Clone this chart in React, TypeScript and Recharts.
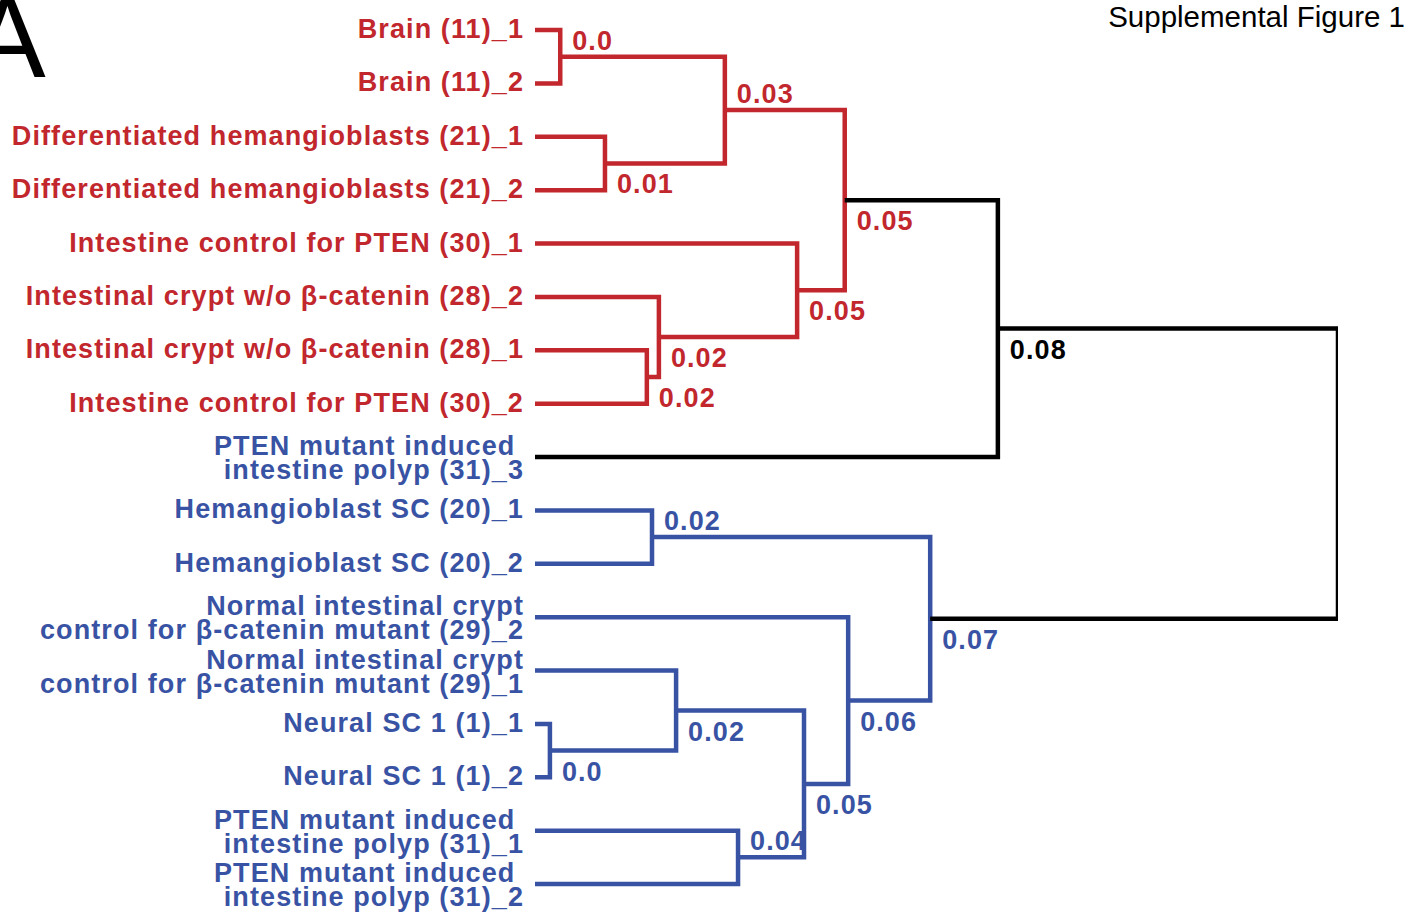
import React from 'react';
import { ComposedChart, XAxis, YAxis, Scatter } from 'recharts';

// Leaves (top to bottom)
const leafLabels = [
  'Brain (11)_1',
  'Brain (11)_2',
  'Differentiated hemangioblasts (21)_1',
  'Differentiated hemangioblasts (21)_2',
  'Intestine control for PTEN (30)_1',
  'Intestinal crypt w/o β-catenin (28)_2',
  'Intestinal crypt w/o β-catenin (28)_1',
  'Intestine control for PTEN (30)_2',
  'PTEN mutant induced \nintestine polyp (31)_3',
  'Hemangioblast SC (20)_1',
  'Hemangioblast SC (20)_2',
  'Normal intestinal crypt\ncontrol for β-catenin mutant (29)_2',
  'Normal intestinal crypt\ncontrol for β-catenin mutant (29)_1',
  'Neural SC 1 (1)_1',
  'Neural SC 1 (1)_2',
  'PTEN mutant induced \nintestine polyp (31)_1',
  'PTEN mutant induced \nintestine polyp (31)_2',
];
const leafGroups = [
  'red', 'red', 'red', 'red', 'red', 'red', 'red', 'red',
  'blue', 'blue', 'blue', 'blue', 'blue', 'blue', 'blue', 'blue', 'blue',
];

// Internal nodes of the dendrogram
const nodeIds = ['n1', 'n2', 'n3', 'n4', 'n5', 'n6', 'n7', 'n8', 'b1', 'b2', 'b3', 'b4', 'b5', 'b6', 'b7', 'root'];
const nodeChildren: [string, string][] = [
  ['L0', 'L1'],
  ['L2', 'L3'],
  ['n1', 'n2'],
  ['L6', 'L7'],
  ['L5', 'n4'],
  ['L4', 'n5'],
  ['n3', 'n6'],
  ['n7', 'L8'],
  ['L9', 'L10'],
  ['L13', 'L14'],
  ['L12', 'b2'],
  ['L15', 'L16'],
  ['b3', 'b4'],
  ['L11', 'b5'],
  ['b1', 'b6'],
  ['n8', 'b7'],
];
const nodeHeights = [0.0044, 0.0122, 0.0331, 0.0195, 0.0216, 0.0457, 0.054, 0.0807, 0.0204, 0.0026, 0.0246, 0.0354, 0.0469, 0.0546, 0.0689, 0.14];
const nodeLabels = ['0.0', '0.01', '0.03', '0.02', '0.02', '0.05', '0.05', '0.08', '0.02', '0.0', '0.02', '0.04', '0.05', '0.06', '0.07', '0.14'];
const nodeGroups = ['red', 'red', 'red', 'red', 'red', 'red', 'red', 'black', 'blue', 'blue', 'blue', 'blue', 'blue', 'blue', 'blue', 'black'];
const nodeLabelSides = ['above', 'below', 'above', 'below', 'below', 'below', 'below', 'below', 'above', 'below', 'below', 'above', 'below', 'below', 'below', 'right'];

const COLORS: Record<string, string> = { red: '#c1272d', blue: '#3953a4', black: '#000000' };
const FONT = "'Liberation Sans', Arial, Helvetica, sans-serif";

// compute coordinates in data space
const pos: Record<string, { x: number; y: number }> = {};
leafLabels.forEach((_, i) => {
  pos['L' + i] = { x: 0, y: i };
});
nodeIds.forEach((id, i) => {
  const [a, b] = nodeChildren[i];
  pos[id] = { x: nodeHeights[i], y: (pos[a].y + pos[b].y) / 2 };
});

const branchData = nodeIds.map((id, i) => {
  const [a, b] = nodeChildren[i];
  const h = nodeHeights[i];
  return [
    { x: pos[a].x, y: pos[a].y },
    { x: h, y: pos[a].y },
    { x: h, y: pos[b].y },
    { x: pos[b].x, y: pos[b].y },
  ];
});

const labelData = nodeIds.map((id, i) => ({
  x: pos[id].x,
  y: pos[id].y,
  label: nodeLabels[i],
  side: nodeLabelSides[i],
  color: COLORS[nodeGroups[i]],
}));

const leafTicks = leafLabels.map((_, i) => i);

const LeafTick = (props: any) => {
  const { x, y, payload } = props;
  const i = payload.value as number;
  const lines = leafLabels[i].split('\n');
  const color = COLORS[leafGroups[i]];
  const common = {
    textAnchor: 'end' as const,
    fill: color,
    fontFamily: FONT,
    fontWeight: 700,
    fontSize: 27,
    letterSpacing: 1.1,
    style: { whiteSpace: 'pre' as const },
  };
  if (lines.length === 1) {
    return (
      <text x={x} y={y + 8} {...common}>
        {lines[0]}
      </text>
    );
  }
  return (
    <text {...common}>
      <tspan x={x} y={y - 2}>{lines[0]}</tspan>
      <tspan x={x} y={y + 22}>{lines[1]}</tspan>
    </text>
  );
};

const NodeLabel = (props: any) => {
  const { cx, cy, payload } = props;
  let tx = cx + 12;
  let ty = cy + 30;
  if (payload.side === 'above') ty = cy - 7;
  if (payload.side === 'right') {
    tx = cx + 18;
    ty = cy - 1;
  }
  return (
    <text x={tx} y={ty} fill={payload.color} fontFamily={FONT} fontWeight={700} fontSize={27} letterSpacing={1.1}>
      {payload.label}
    </text>
  );
};

const NoPoint = () => <g />;

export default function App() {
  return (
    <div style={{ position: 'absolute', left: 0, top: 0, width: 1415, height: 921, background: '#fff' }}>
      <ComposedChart width={1415} height={921} margin={{ top: 30, right: 77, bottom: 37, left: 0 }}>
        <XAxis type="number" dataKey="x" domain={[0, 0.14]} hide allowDataOverflow />
        <YAxis
          type="number"
          dataKey="y"
          domain={[0, 16]}
          reversed
          ticks={leafTicks}
          interval={0}
          width={535}
          axisLine={false}
          tickLine={false}
          tickSize={0}
          tickMargin={11}
          tick={<LeafTick />}
        />
        {branchData.map((d, i) => (
          <Scatter
            key={nodeIds[i]}
            data={d}
            fill={COLORS[nodeGroups[i]]}
            line={{ stroke: COLORS[nodeGroups[i]], strokeWidth: 4.5, strokeLinejoin: 'miter' }}
            lineType="joint"
            shape={<NoPoint />}
            isAnimationActive={false}
          />
        ))}
        <Scatter data={labelData} shape={<NodeLabel />} isAnimationActive={false} />
      </ComposedChart>
      <svg width={1415} height={921} style={{ position: 'absolute', left: 0, top: 0, pointerEvents: 'none' }}>
        <text x={-31} y={77} fontFamily={FONT} fontSize={115} fill="#000">A</text>
        <text x={1405} y={27} textAnchor="end" fontFamily={FONT} fontSize={29.5} fill="#000">Supplemental Figure 1</text>
      </svg>
    </div>
  );
}
